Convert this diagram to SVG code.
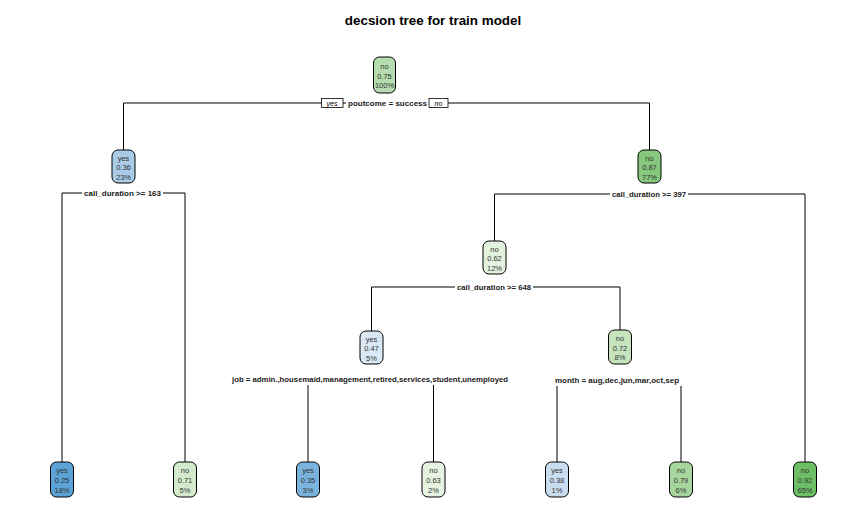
<svg xmlns="http://www.w3.org/2000/svg" width="866" height="532" viewBox="0 0 866 532">
<style>
.bg{fill:#ffffff}
.ln{stroke:#000;stroke-width:1;fill:none}
.nd{stroke:#000;stroke-width:1}
.nt{font-family:"Liberation Sans",Arial,sans-serif;font-size:7.5px;fill:#333;text-anchor:middle}
.sl{font-family:"Liberation Sans",Arial,sans-serif;font-size:8px;font-weight:bold;fill:#1a1a1a;text-anchor:middle}
.lb{fill:#fff}
.yn{fill:#fff;stroke:#000;stroke-width:0.8}
.ynt{font-family:"Liberation Sans",Arial,sans-serif;font-size:7px;font-style:italic;fill:#000;text-anchor:middle}
.title{font-family:"Liberation Sans",Arial,sans-serif;font-size:13.4px;font-weight:bold;fill:#000;text-anchor:middle}
</style>
<rect class="bg" x="0" y="0" width="866" height="532"/>
<text class="title" x="433" y="25">decsion tree for train model</text>

<g id="connectors">
  <path class="ln" d="M123.5,150 V103 H649.5 V150"/>
  <path class="ln" d="M62,462 V193 H185 V462"/>
  <path class="ln" d="M494.5,241 V194 H805 V462"/>
  <path class="ln" d="M371.5,331 V287 H620 V330"/>
  <path class="ln" d="M308,385 V462"/>
  <path class="ln" d="M433.5,385 V462"/>
  <path class="ln" d="M557,386 V462"/>
  <path class="ln" d="M681,386 V462"/>
  <rect class="lb" x="346" y="98" width="83" height="10"/>
  <text class="sl" x="387.5" y="106" textLength="79" lengthAdjust="spacingAndGlyphs">poutcome = success</text>
  <rect class="yn" x="321.5" y="98.5" width="21.5" height="9"/>
  <text class="ynt" x="332" y="105.5">yes</text>
  <rect class="yn" x="429" y="98.5" width="19" height="9"/>
  <text class="ynt" x="438.5" y="105.5">no</text>
  <rect class="lb" x="82" y="188" width="81" height="10"/>
  <text class="sl" x="122.5" y="196" textLength="77" lengthAdjust="spacingAndGlyphs">call_duration &gt;= 163</text>
  <rect class="lb" x="610" y="189" width="78" height="10"/>
  <text class="sl" x="649" y="197" textLength="74" lengthAdjust="spacingAndGlyphs">call_duration &gt;= 397</text>
  <rect class="lb" x="455" y="282" width="78" height="10"/>
  <text class="sl" x="494" y="290" textLength="74" lengthAdjust="spacingAndGlyphs">call_duration &gt;= 648</text>
  <text class="sl" x="370" y="382" textLength="276" lengthAdjust="spacingAndGlyphs">job = admin.,housemaid,management,retired,services,student,unemployed</text>
  <text class="sl" x="617" y="383" textLength="124" lengthAdjust="spacingAndGlyphs">month = aug,dec,jun,mar,oct,sep</text>
</g>

<g id="node1">
  <rect class="nd" x="373.5" y="57" width="22" height="36" rx="6" fill="#b5dcae"/>
  <text class="nt" x="384.5" y="68.5">no</text>
  <text class="nt" x="384.5" y="78.5">0.75</text>
  <text class="nt" x="384.5" y="88">100%</text>
</g>
<g id="node2">
  <rect class="nd" x="112" y="150" width="23" height="33" rx="6" fill="#a9cbe8"/>
  <text class="nt" x="123.5" y="160.5">yes</text>
  <text class="nt" x="123.5" y="170">0.36</text>
  <text class="nt" x="123.5" y="179.5">23%</text>
</g>
<g id="node3">
  <rect class="nd" x="638" y="150" width="23" height="33" rx="6" fill="#86c97e"/>
  <text class="nt" x="649.5" y="160.5">no</text>
  <text class="nt" x="649.5" y="170">0.87</text>
  <text class="nt" x="649.5" y="179.5">77%</text>
</g>
<g id="node6">
  <rect class="nd" x="483" y="241" width="23" height="33" rx="6" fill="#e3f2dd"/>
  <text class="nt" x="494.5" y="251.5">no</text>
  <text class="nt" x="494.5" y="261">0.62</text>
  <text class="nt" x="494.5" y="270.5">12%</text>
</g>
<g id="node12">
  <rect class="nd" x="360" y="331" width="23" height="33" rx="6" fill="#dae8f6"/>
  <text class="nt" x="371.5" y="341.5">yes</text>
  <text class="nt" x="371.5" y="351">0.47</text>
  <text class="nt" x="371.5" y="360.5">5%</text>
</g>
<g id="node13">
  <rect class="nd" x="608.5" y="330" width="23" height="34" rx="6" fill="#c6e5bf"/>
  <text class="nt" x="620" y="341">no</text>
  <text class="nt" x="620" y="350.5">0.72</text>
  <text class="nt" x="620" y="360">8%</text>
</g>
<g id="leaf4">
  <rect class="nd" x="50.5" y="462" width="23" height="35" rx="6" fill="#5ba3d6"/>
  <text class="nt" x="62" y="473">yes</text>
  <text class="nt" x="62" y="482.5">0.25</text>
  <text class="nt" x="62" y="492.5">18%</text>
</g>
<g id="leaf5">
  <rect class="nd" x="173.5" y="462" width="23" height="35" rx="6" fill="#d3ebcc"/>
  <text class="nt" x="185" y="473">no</text>
  <text class="nt" x="185" y="482.5">0.71</text>
  <text class="nt" x="185" y="492.5">5%</text>
</g>
<g id="leaf24">
  <rect class="nd" x="296.5" y="462" width="23" height="35" rx="6" fill="#7ab3de"/>
  <text class="nt" x="308" y="473">yes</text>
  <text class="nt" x="308" y="482.5">0.35</text>
  <text class="nt" x="308" y="492.5">3%</text>
</g>
<g id="leaf25">
  <rect class="nd" x="422" y="462" width="23" height="35" rx="6" fill="#e5f3e0"/>
  <text class="nt" x="433.5" y="473">no</text>
  <text class="nt" x="433.5" y="482.5">0.63</text>
  <text class="nt" x="433.5" y="492.5">2%</text>
</g>
<g id="leaf26">
  <rect class="nd" x="545.5" y="462" width="23" height="35" rx="6" fill="#c9ddf1"/>
  <text class="nt" x="557" y="473">yes</text>
  <text class="nt" x="557" y="482.5">0.38</text>
  <text class="nt" x="557" y="492.5">1%</text>
</g>
<g id="leaf27">
  <rect class="nd" x="669.5" y="462" width="23" height="35" rx="6" fill="#a6d69d"/>
  <text class="nt" x="681" y="473">no</text>
  <text class="nt" x="681" y="482.5">0.79</text>
  <text class="nt" x="681" y="492.5">6%</text>
</g>
<g id="leaf7">
  <rect class="nd" x="793.5" y="462" width="23" height="35" rx="6" fill="#6cbf65"/>
  <text class="nt" x="805" y="473">no</text>
  <text class="nt" x="805" y="482.5">0.92</text>
  <text class="nt" x="805" y="492.5">65%</text>
</g>
</svg>
